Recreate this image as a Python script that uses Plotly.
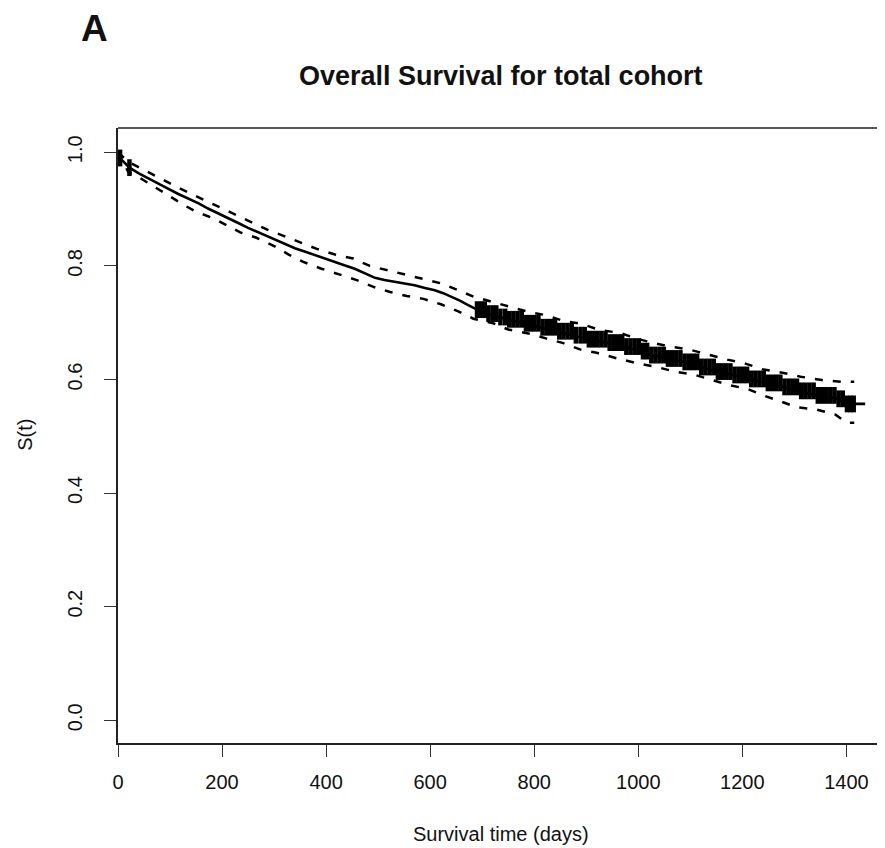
import numpy as np
import plotly.graph_objects as go

# Kaplan-Meier estimate (days, survival)
km_time = [0, 3, 10, 22, 40, 58, 77, 96, 115, 135, 155, 173, 192, 212, 230, 250, 265, 276,
           300, 320, 340, 360, 378, 398, 417, 435, 455, 475, 494, 512, 532, 550, 570, 590,
           609, 625, 641, 657, 673, 690, 710, 730, 747, 780, 811, 845, 875, 905, 939, 970,
           1003, 1023, 1055, 1087, 1120, 1151, 1183, 1215, 1247, 1279, 1311, 1343, 1382,
           1400, 1436]
km_surv = [1.000, 0.990, 0.984, 0.973, 0.963, 0.954, 0.945, 0.936, 0.927, 0.919, 0.910,
           0.901, 0.893, 0.884, 0.876, 0.867, 0.861, 0.857, 0.847, 0.838, 0.831, 0.825,
           0.819, 0.813, 0.807, 0.801, 0.795, 0.787, 0.779, 0.775, 0.772, 0.769, 0.766,
           0.761, 0.757, 0.752, 0.746, 0.739, 0.731, 0.723, 0.716, 0.710, 0.706, 0.699,
           0.692, 0.685, 0.678, 0.671, 0.665, 0.658, 0.650, 0.643, 0.637, 0.631, 0.622,
           0.614, 0.608, 0.601, 0.594, 0.587, 0.580, 0.572, 0.566, 0.557, 0.557]

# Upper confidence limit
up_time = [0, 20, 54, 87, 113, 145, 173, 202, 231, 263, 289, 318, 347, 382, 417, 452, 484,
           516, 552, 587, 622, 654, 683, 718, 753, 789, 824, 856, 891, 926, 965, 997, 1026,
           1061, 1101, 1136, 1171, 1206, 1238, 1277, 1312, 1353, 1391, 1415]
up_surv = [1.000, 0.983, 0.967, 0.951, 0.939, 0.925, 0.913, 0.901, 0.888, 0.875, 0.863,
           0.853, 0.843, 0.830, 0.820, 0.813, 0.800, 0.793, 0.784, 0.777, 0.769, 0.757,
           0.746, 0.737, 0.728, 0.719, 0.713, 0.703, 0.698, 0.687, 0.682, 0.672, 0.665,
           0.658, 0.652, 0.643, 0.635, 0.628, 0.618, 0.612, 0.605, 0.599, 0.596, 0.596]

# Lower confidence limit
lo_time = [0, 20, 42, 71, 97, 125, 151, 183, 209, 235, 265, 300, 328, 356, 391, 423, 459,
           491, 523, 555, 587, 622, 654, 683, 721, 750, 789, 824, 856, 888, 920, 960, 1000,
           1036, 1069, 1109, 1144, 1176, 1211, 1240, 1275, 1305, 1343, 1379, 1400, 1415]
lo_surv = [1.000, 0.965, 0.955, 0.938, 0.924, 0.908, 0.895, 0.884, 0.872, 0.859, 0.850,
           0.835, 0.820, 0.807, 0.795, 0.785, 0.775, 0.763, 0.754, 0.747, 0.742, 0.732,
           0.720, 0.707, 0.699, 0.688, 0.681, 0.672, 0.664, 0.653, 0.647, 0.637, 0.628,
           0.622, 0.614, 0.608, 0.599, 0.590, 0.583, 0.572, 0.561, 0.551, 0.547, 0.538,
           0.524, 0.524]

# Censoring times (dense after ~690 days)
censor_time = [4, 22,
               690, 698, 705, 712, 720, 727, 735, 744, 752, 760, 768, 776, 784, 792, 800,
               808, 816, 824, 832, 840, 848, 856, 864, 872, 880, 889, 897, 905, 913, 921,
               929, 937, 945, 953, 961, 969, 977, 985, 993, 1001, 1009, 1017, 1025, 1033,
               1041, 1049, 1057, 1065, 1073, 1081, 1089, 1097, 1105, 1113, 1121, 1129,
               1137, 1145, 1153, 1161, 1169, 1177, 1185, 1193, 1201, 1209, 1217, 1225,
               1233, 1241, 1249, 1257, 1265, 1273, 1281, 1289, 1297, 1305, 1313, 1321,
               1329, 1337, 1345, 1353, 1361, 1369, 1377, 1385, 1393, 1401, 1408, 1414]

x_ticks = [0, 200, 400, 600, 800, 1000, 1200, 1400]
y_ticks = [0.0, 0.2, 0.4, 0.6, 0.8, 1.0]
y_tick_text = ["0.0", "0.2", "0.4", "0.6", "0.8", "1.0"]

title_text = "Overall Survival for total cohort"
panel_label = "A"
x_title = "Survival time (days)"
y_title = "S(t)"

# survival value at each censoring time (step-function lookup)
kt = np.array(km_time)
ks = np.array(km_surv)
censor_surv = ks[np.searchsorted(kt, np.array(censor_time), side="right") - 1]

FONT = "Liberation Sans, Arial, sans-serif"
INK = "#111111"

# the page body has an 8px margin: work in page pixels, convert to figure pixels
OFF = 8
PAGE_W, PAGE_H = 885, 848
W, H = PAGE_W - OFF, PAGE_H - OFF
L, T, B = 118.3 - OFF, 128.0 - OFF, 742.7 - OFF
plot_h = B - T
plot_w = W - L


def px_x(x):
    return (x - OFF - L) / plot_w


def px_y(y):
    return (B - (y - OFF)) / plot_h


fig = go.Figure()
dash = "8px,10px"
fig.add_trace(go.Scatter(x=up_time, y=up_surv, mode="lines",
                         line=dict(color="black", width=2.5, dash=dash), hoverinfo="skip"))
fig.add_trace(go.Scatter(x=lo_time, y=lo_surv, mode="lines",
                         line=dict(color="black", width=2.5, dash=dash), hoverinfo="skip"))
fig.add_trace(go.Scatter(x=km_time, y=km_surv, mode="lines",
                         line=dict(color="black", width=2.6)))
fig.add_trace(go.Scatter(x=censor_time, y=censor_surv, mode="markers",
                         marker=dict(symbol="line-ns", size=12,
                                     line=dict(color="black", width=4.5))))

fig.update_layout(
    width=W, height=H,
    margin=dict(l=L, r=0, t=T, b=H - B, pad=0),
    paper_bgcolor="white", plot_bgcolor="white",
    showlegend=False,
    font=dict(family=FONT, color=INK),
    xaxis=dict(range=[0, plot_w / 0.5201], tickvals=x_ticks,
               ticktext=[str(v) for v in x_ticks],
               showgrid=False, zeroline=False, showline=True, linecolor="#222",
               linewidth=1.5, ticks="outside", ticklen=12, tickwidth=1.4,
               tickcolor="#333", tickfont=dict(size=20, family=FONT, color=INK),
               ticklabelstandoff=8),
    yaxis=dict(range=[-0.04, 1.0428], tickvals=y_ticks, ticktext=y_tick_text,
               showgrid=False, zeroline=False, showline=True, linecolor="#222",
               linewidth=1.5, ticks="outside", ticklen=12, tickwidth=1.4,
               tickcolor="#333", tickangle=-90,
               tickfont=dict(size=20, family=FONT, color=INK),
               ticklabelstandoff=14),
    shapes=[dict(type="line", xref="paper", yref="paper", x0=0, x1=1, y0=1, y1=1,
                 line=dict(color="#222", width=1.5))],
    annotations=[
        dict(text=title_text, xref="paper", yref="paper", x=px_x(500.8), y=px_y(76),
             xanchor="center", yanchor="middle", showarrow=False,
             font=dict(size=27, family=FONT, color=INK, weight="bold")),
        dict(text=panel_label, xref="paper", yref="paper", x=px_x(94.5), y=px_y(29),
             xanchor="center", yanchor="middle", showarrow=False,
             font=dict(size=37, family=FONT, color=INK, weight="bold")),
        dict(text=x_title, xref="paper", yref="paper", x=px_x(501), y=px_y(834),
             xanchor="center", yanchor="middle", showarrow=False,
             font=dict(size=20, family=FONT, color=INK)),
        dict(text=y_title, xref="paper", yref="paper", x=px_x(25), y=px_y(435),
             xanchor="center", yanchor="middle", showarrow=False, textangle=-90,
             font=dict(size=20, family=FONT, color=INK)),
    ],
)

fig.write_html("out.html")
